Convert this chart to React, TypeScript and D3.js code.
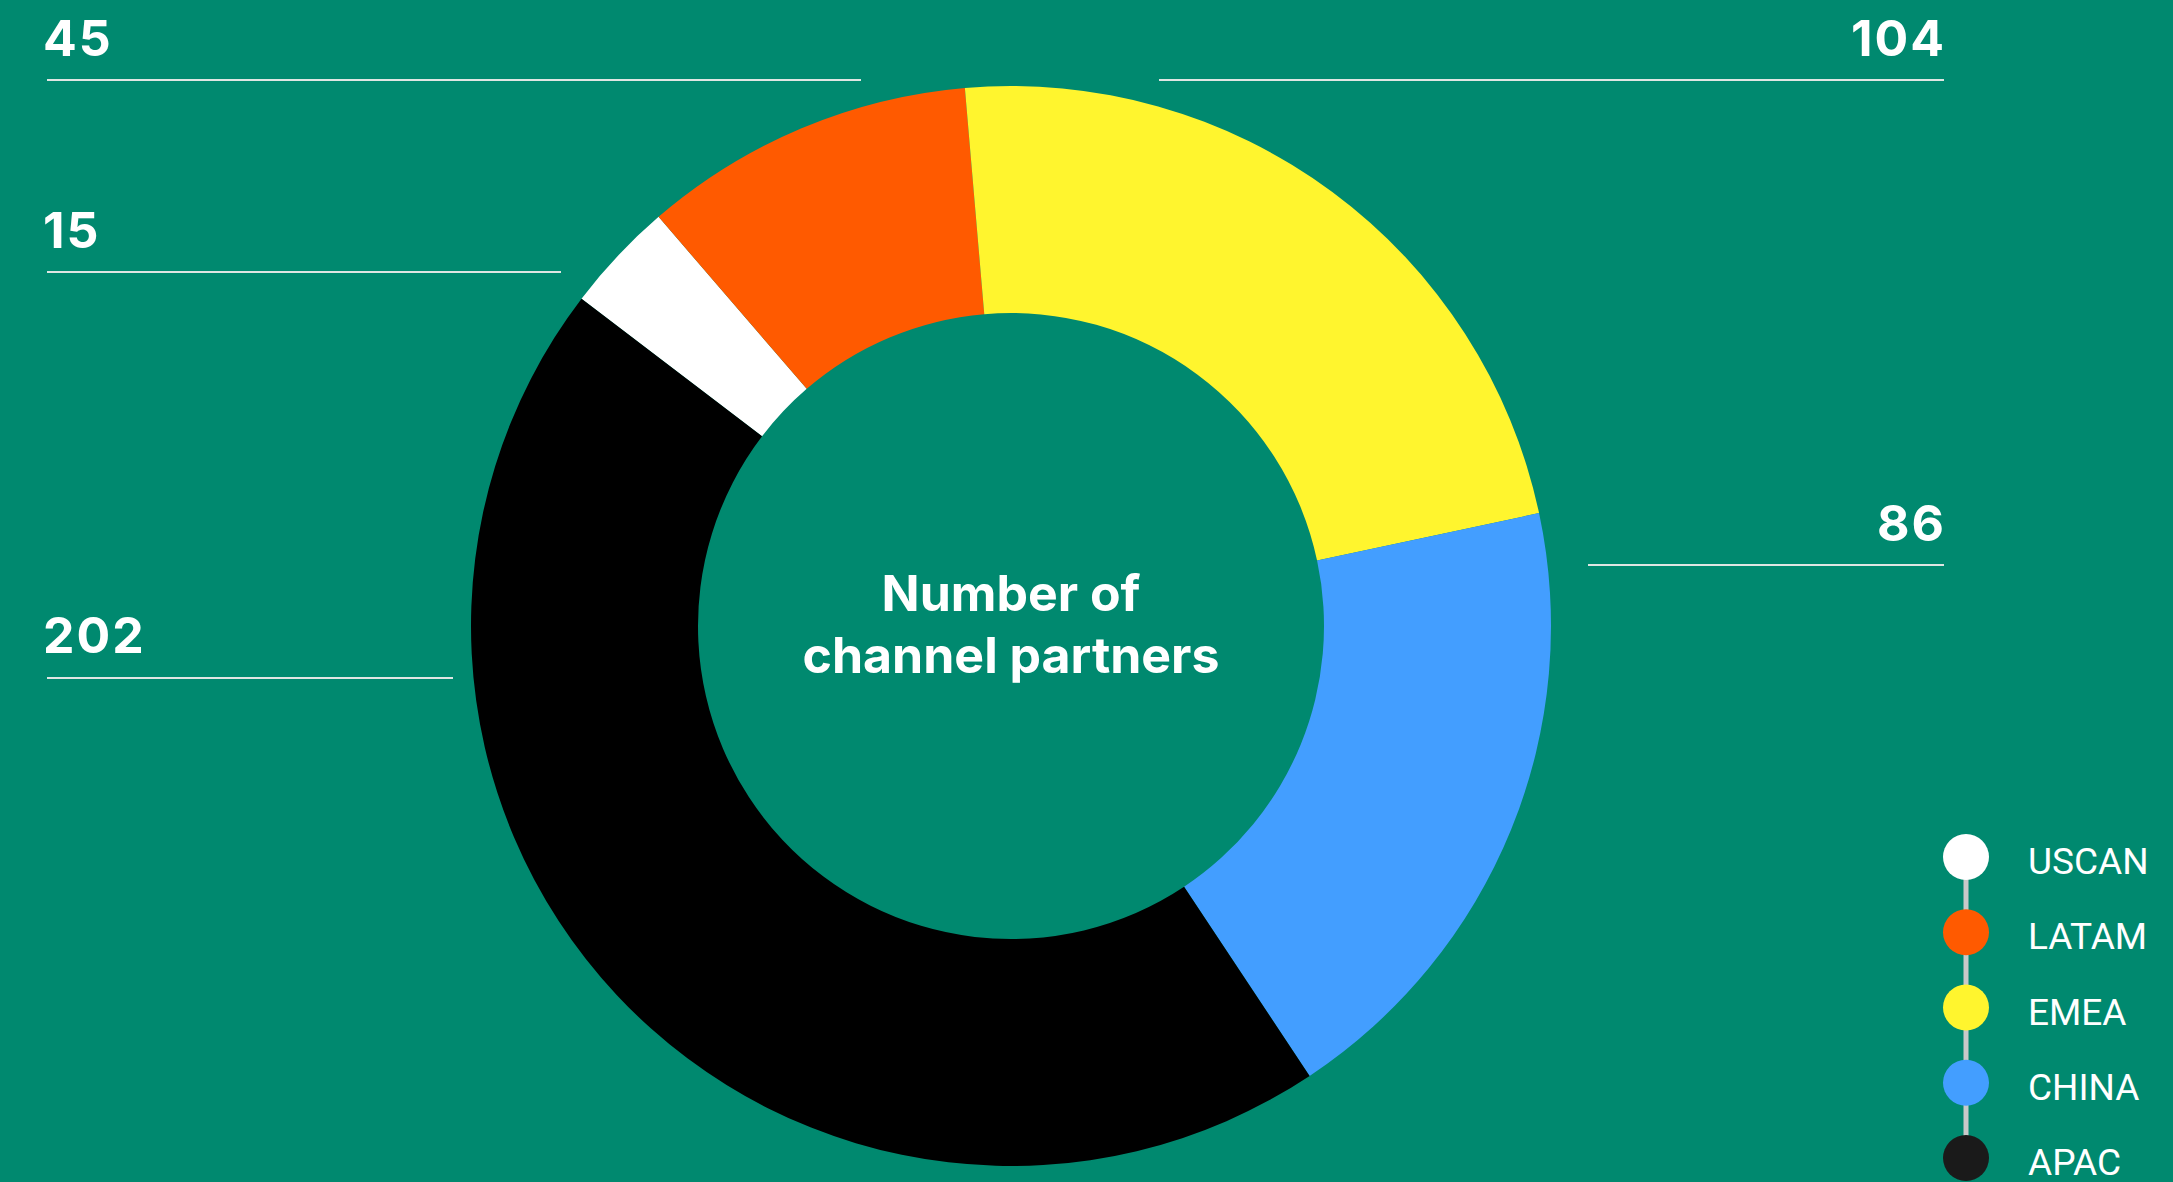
import React from "react";
import * as d3 from "d3";

const regions = ["USCAN", "LATAM", "EMEA", "CHINA", "APAC"];
const values = [15, 45, 104, 86, 202];
const sliceColors = ["#ffffff", "#ff5a00", "#fff52e", "#439eff", "#000000"];
const legendColors = ["#ffffff", "#ff5a00", "#fff52e", "#439eff", "#1a1a1a"];
const centerLines = ["Number of", "channel partners"];

// label layout (annotation placement)
const labelLayout = [
  { region: "USCAN", side: "left", baseline: 248, lineY: 272, lineEnd: 561 },
  { region: "LATAM", side: "left", baseline: 56, lineY: 80, lineEnd: 861 },
  { region: "EMEA", side: "right", baseline: 56, lineY: 80, lineEnd: 1159 },
  { region: "CHINA", side: "right", baseline: 541, lineY: 565, lineEnd: 1588 },
  { region: "APAC", side: "left", baseline: 653, lineY: 678, lineEnd: 453 },
];

const W = 2173;
const H = 1182;
const BG = "#00896f";

export default function App() {
  const cx = 1011;
  const cy = 626;
  const outerR = 540;
  const innerR = 313;
  const total = d3.sum(values);
  const firstStart = ((-4.9 - ((values[0] + values[1]) / total) * 360) * Math.PI) / 180;

  const pie = d3
    .pie<number>()
    .sort(null)
    .value((d) => d)
    .startAngle(firstStart)
    .endAngle(firstStart + 2 * Math.PI);
  const arcs = pie(values);
  const arc = d3.arc<d3.PieArcDatum<number>>().innerRadius(innerR).outerRadius(outerR);

  const leftX = 43;
  const rightX = 1946;

  const legendX = 1966;
  const legendY = d3.scalePoint<string>().domain(regions).range([857, 1158]);

  return (
    <svg
      width={W}
      height={H}
      style={{ position: "absolute", left: 0, top: 0, display: "block" }}
    >
      <rect x={0} y={0} width={W} height={H} fill={BG} />
      <g transform={`translate(${cx},${cy})`}>
        {arcs.map((a, i) => (
          <path key={regions[i]} d={arc(a) || ""} fill={sliceColors[i]} />
        ))}
        {centerLines.map((t, i) => (
          <text
            key={t}
            x={0}
            y={-15 + i * 62}
            textAnchor="middle"
            fill="#ffffff"
            fontFamily="Inter, 'Noto Sans', sans-serif"
            fontWeight={700}
            fontSize={50}
          >
            {t}
          </text>
        ))}
      </g>
      {labelLayout.map((l) => {
        const i = regions.indexOf(l.region);
        const isLeft = l.side === "left";
        return (
          <g key={l.region}>
            <text
              x={isLeft ? leftX : rightX}
              y={l.baseline}
              textAnchor={isLeft ? "start" : "end"}
              fill="#ffffff"
              fontFamily="Inter, 'Noto Sans', sans-serif"
              fontWeight={700}
              fontSize={50}
              letterSpacing={2}
            >
              {values[i]}
            </text>
            <line
              x1={isLeft ? 47 : l.lineEnd}
              x2={isLeft ? l.lineEnd : 1944}
              y1={l.lineY}
              y2={l.lineY}
              stroke="#dfe6e3"
              strokeWidth={2}
            />
          </g>
        );
      })}
      <line
        x1={legendX}
        x2={legendX}
        y1={legendY(regions[0])}
        y2={legendY(regions[regions.length - 1])}
        stroke="#c9c9c9"
        strokeWidth={5}
      />
      {regions.map((r, i) => (
        <g key={r}>
          <circle cx={legendX} cy={legendY(r)} r={23} fill={legendColors[i]} />
          <text
            x={2028}
            y={(legendY(r) || 0) + 17}
            fill="#ffffff"
            fontFamily="Roboto, 'Liberation Sans', sans-serif"
            fontSize={37}
          >
            {r}
          </text>
        </g>
      ))}
    </svg>
  );
}
